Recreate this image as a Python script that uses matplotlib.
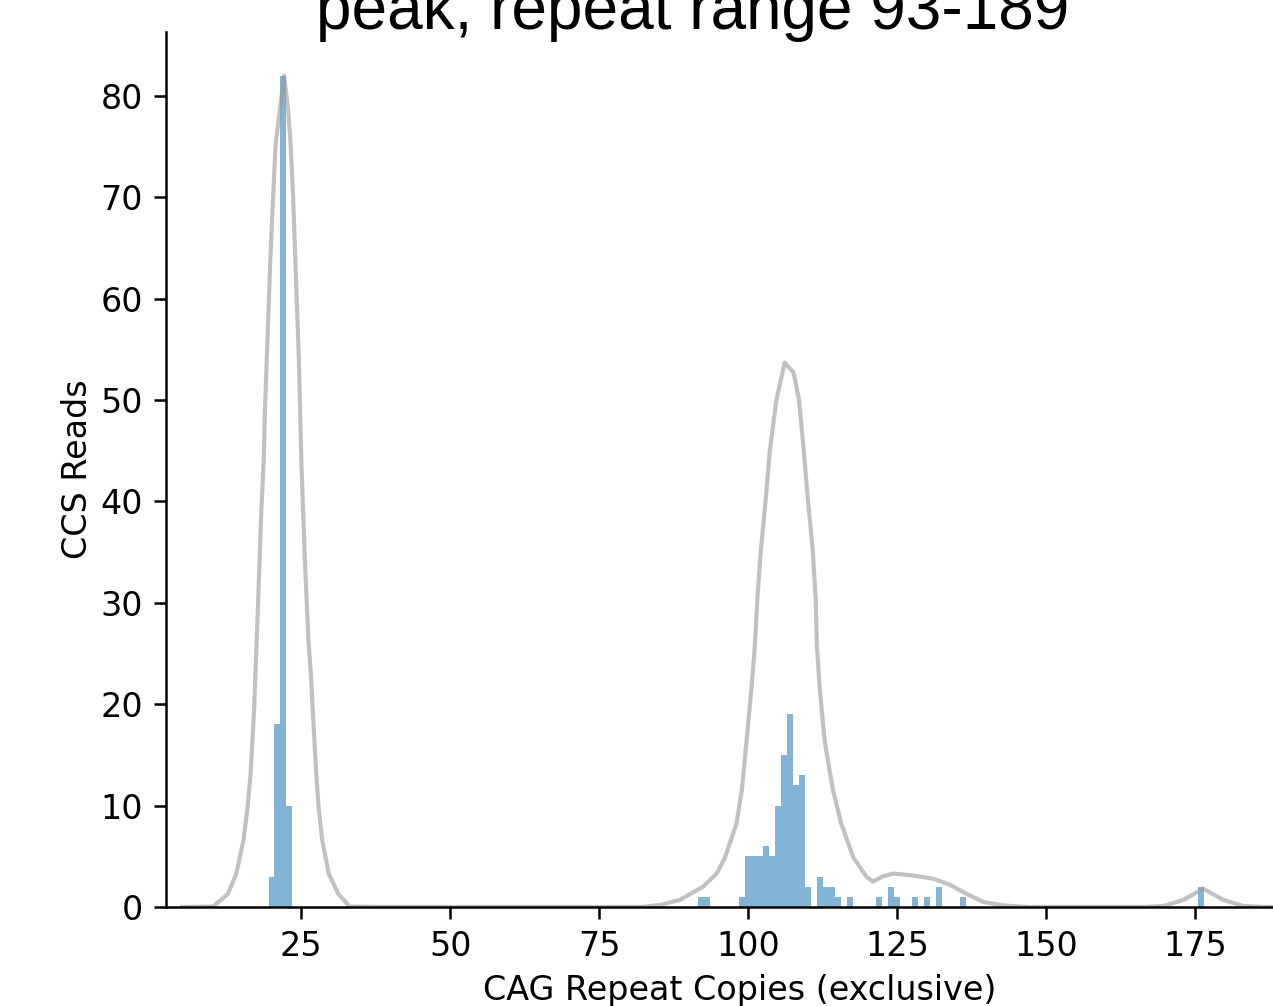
import matplotlib

matplotlib.use("Agg")
import matplotlib.pyplot as plt

# histogram of CCS reads per CAG repeat count
repeat_copies = [20, 21, 22, 23, 92, 93, 99, 100, 101, 102, 103, 104, 105, 106, 107,
                 108, 109, 110, 112, 113, 114, 115, 117, 122, 124, 125, 128, 130, 132,
                 136, 176]
ccs_reads = [3, 18, 82, 10, 1, 1, 1, 5, 5, 5, 6, 5, 10, 15, 19,
             12, 13, 2, 3, 2, 2, 1, 1, 1, 2, 1, 1, 1, 2,
             1, 2]

# smoothed density curve (scaled to read counts)
smooth_x = [5.0, 10.2, 12.7, 14.1, 15.3, 16.0, 16.5, 16.8, 17.1, 17.3, 17.6, 18.0,
            18.3, 18.7, 18.9, 19.2, 19.8, 20.3, 20.7, 21.4, 22.1, 22.8, 23.2, 23.6,
            24.0, 24.6, 25.0, 25.6, 26.2, 26.6, 26.9, 27.2, 27.5, 27.9, 28.5, 29.6,
            31.2, 33.1, 40.0,
            82.0, 85.2, 88.5, 92.4, 94.7, 96.1, 98.0, 98.9, 99.7, 100.5, 101.1, 101.5,
            102.1, 102.9, 103.6, 104.7, 106.1, 107.6, 108.5, 109.3, 110.0, 110.8,
            111.3, 111.5, 112.0, 112.8, 114.2, 115.6, 117.6, 119.8, 120.9, 122.5,
            124.3, 127.7, 131.0, 133.8, 136.6, 139.4, 142.8, 147.3,
            166.0, 169.6, 173.0, 176.3, 179.7, 183.1, 187.0, 195.0]
smooth_y = [0.0, 0.05, 1.3, 3.3, 6.6, 9.9, 13.2, 16.4, 19.7, 23.0, 27.5, 34.2,
            39.2, 44.1, 49.0, 53.9, 63.8, 70.4, 75.3, 78.6, 82.0, 78.6, 75.3, 70.4,
            63.8, 53.9, 44.1, 34.2, 26.3, 23.0, 19.7, 16.4, 13.2, 9.9, 6.6, 3.3,
            1.3, 0.05, 0.0,
            0.0, 0.2, 0.7, 2.0, 3.3, 4.9, 8.2, 11.5, 16.4, 21.4, 25.8, 30.3,
            35.2, 40.1, 45.0, 50.0, 53.7, 52.7, 50.0, 45.0, 40.1, 35.2,
            30.3, 25.8, 21.4, 16.4, 11.5, 8.2, 4.9, 3.0, 2.5, 3.0,
            3.3, 3.1, 2.8, 2.2, 1.3, 0.5, 0.15, 0.0,
            0.0, 0.1, 0.7, 1.8, 0.7, 0.1, 0.0, 0.0]

x_ticks = [25, 50, 75, 100, 125, 150, 175]
y_ticks = [0, 10, 20, 30, 40, 50, 60, 70, 80]

W, H = 1273, 1006
fig = plt.figure(figsize=(W / 100, H / 100), dpi=100)
# axes runs past the right edge of the canvas (the source image is cropped)
ax = fig.add_axes([166 / W, 1 - 907 / H, (1314 - 166) / W, (907 - 32) / H])

ax.bar(repeat_copies, ccs_reads, width=1.0, color="#1f77b4", alpha=0.55,
       linewidth=0, zorder=1)
ax.plot(smooth_x, smooth_y, color="#999999", alpha=0.6, linewidth=3.0,
        solid_joinstyle="round", zorder=2)

ax.set_xlim(2.3, 194.9)
ax.set_ylim(0, 86.3)
ax.set_xticks(x_ticks)
ax.set_yticks(y_ticks)

for side in ["top", "right"]:
    ax.spines[side].set_visible(False)
for side in ["left", "bottom"]:
    ax.spines[side].set_linewidth(1.8)
ax.tick_params(axis="both", labelsize=24, width=1.8, length=8.4, pad=8)

ax.set_xlabel("CAG Repeat Copies (exclusive)", fontsize=24, labelpad=8)
ax.set_ylabel("CCS Reads", fontsize=24, labelpad=5)

fig.text(693 / W, 1 - 29 / H, "peak, repeat range 93-189", ha="center",
         va="baseline", fontsize=46, family="Liberation Sans")

fig.savefig("out.png", dpi=100)
